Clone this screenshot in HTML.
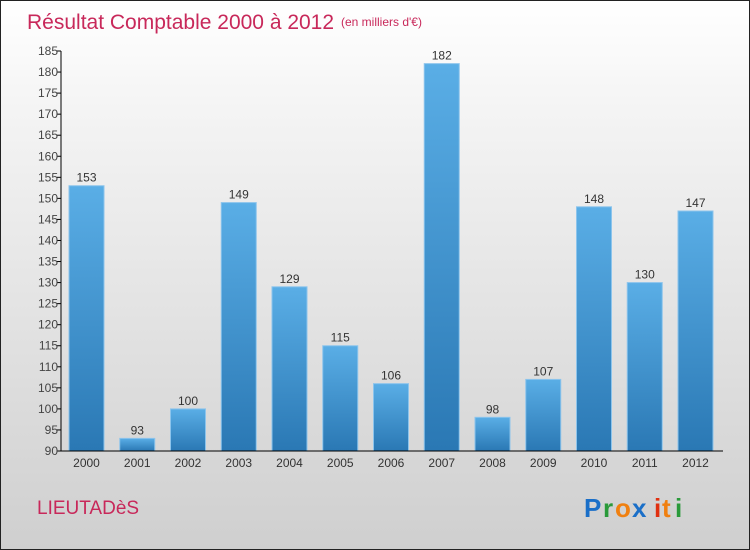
<!DOCTYPE html>
<html><head><meta charset="utf-8"><style>
body{margin:0}
#c{width:750px;height:550px;position:relative;box-sizing:border-box;border:1px solid #222;background:linear-gradient(#ffffff,#f4f4f4 20%,#cfcfcf);font-family:"Liberation Sans",sans-serif;overflow:hidden}
</style></head><body>
<div id="c">
<svg width="750" height="550" style="position:absolute;left:0;top:0">
<defs><linearGradient id="bg" x1="0" y1="0" x2="0" y2="1"><stop offset="0" stop-color="#5aaee6"/><stop offset="1" stop-color="#2a78b4"/></linearGradient></defs>
<text x="26" y="28" font-size="21" fill="#c8285a">Résultat Comptable 2000 à 2012</text>
<text x="340" y="25" font-size="12" fill="#c8285a">(en milliers d'€)</text>
<text x="36" y="513" font-size="19" fill="#c8285a">LIEUTADèS</text>
<g font-size="26" font-weight="bold">
<text x="583" y="516" fill="#1a6fc8">P</text><text x="602" y="516" fill="#2a9a3a">r</text><text x="614" y="516" fill="#f08010">o</text><text x="631" y="516" fill="#1a6fc8">x</text><text x="653" y="516" fill="#e03010">i</text><text x="661" y="516" fill="#f08010">t</text><text x="674" y="516" fill="#2a9a3a">i</text></g>
<g id="plot"></g>
</svg>
</div>
<script>
const years=["2000","2001","2002","2003","2004","2005","2006","2007","2008","2009","2010","2011","2012"];
const values=[153,93,100,149,129,115,106,182,98,107,148,130,147];
const ticks=[90,95,100,105,110,115,120,125,130,135,140,145,150,155,160,165,170,175,180,185];
const ns="http://www.w3.org/2000/svg";
const g=document.getElementById('plot');
const y=v=>450-(v-90)*400/95;
const x=i=>85.5+i*50.75;
function mk(t,a){const e=document.createElementNS(ns,t);for(const k in a)e.setAttribute(k,a[k]);g.appendChild(e);return e;}
values.forEach((v,i)=>{
 const r=mk('rect',{x:x(i)-17.5,y:y(v),width:35,height:450-y(v),fill:'url(#bg)',stroke:'#8cc4ec','stroke-width':1});
 
 
 const t=mk('text',{x:x(i),y:y(v)-4,'font-size':12,'text-anchor':'middle',fill:'#333'});
 t.textContent=v;
 
 
 const l=mk('text',{x:x(i),y:466,'font-size':12,'text-anchor':'middle',fill:'#333'});
 l.textContent=years[i];
 
 
});
ticks.forEach(v=>{
 const tk=mk('line',{x1:56,x2:60,y1:y(v),y2:y(v),stroke:'#000'});
 
 
 const t=mk('text',{x:57,y:y(v)+4,'font-size':12,'text-anchor':'end',fill:'#444'});
 t.textContent=v;
 
 
});
const ya=mk('line',{x1:60,x2:60,y1:50,y2:450,stroke:'#000'});


const xa=mk('line',{x1:60,x2:722,y1:450,y2:450,stroke:'#000'});


</script>
</body></html>
